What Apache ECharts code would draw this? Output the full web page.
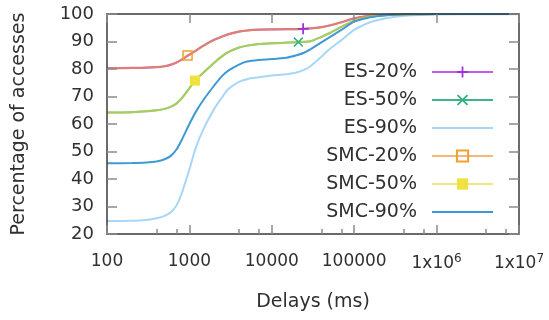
<!DOCTYPE html>
<html>
<head>
<meta charset="utf-8">
<script src="https://cdn.jsdelivr.net/npm/echarts@6/dist/echarts.min.js"></script>
<style>
html,body{margin:0;padding:0;background:#fff;}
#wrap{position:relative;width:549px;height:320px;}
#c,#frame{position:absolute;left:0;top:0;width:549px;height:320px;}
#frame{pointer-events:none;}
</style>
</head>
<body>
<div id="wrap"><div id="c"></div><div id="frame"></div></div>
<script>
// Delays (ms) at which curves were read
const delays = [100, 200, 300, 400, 500, 600, 700, 800, 1000, 1200, 1500, 2000, 2500, 3000, 4000, 5000, 7000, 10000, 15000, 20000, 25000, 30000, 40000, 50000, 70000, 100000, 150000, 200000, 300000, 500000, 1000000, 2000000, 5000000, 10000000];

const es20  = [80.3, 80.4, 80.5, 80.7, 81.0, 81.6, 82.4, 83.3, 85.2, 86.7, 88.6, 90.6, 91.8, 92.7, 93.6, 94.0, 94.3, 94.4, 94.5, 94.5, 94.6, 94.8, 95.2, 95.8, 97.0, 98.4, 99.3, 99.6, 99.8, 99.9, 100, 100, 100, 100];
const es50  = [64.2, 64.3, 64.6, 65.0, 65.5, 66.3, 67.5, 69.2, 73.0, 76.2, 78.8, 82.3, 84.7, 86.2, 87.8, 88.5, 89.1, 89.4, 89.6, 89.7, 89.9, 90.2, 91.7, 93.0, 95.3, 97.6, 98.9, 99.4, 99.7, 99.9, 100, 100, 100, 100];
const es90  = [24.7, 24.8, 25.1, 25.7, 26.6, 28.0, 30.5, 34.5, 43.5, 51.5, 58.5, 65.5, 69.8, 72.8, 75.3, 76.3, 77.0, 77.6, 78.1, 78.7, 79.8, 81.2, 84.5, 87.2, 90.5, 94.2, 96.8, 97.9, 98.9, 99.5, 99.8, 99.9, 99.9, 99.9];
const smc20 = [80.3, 80.4, 80.5, 80.7, 81.0, 81.6, 82.4, 83.3, 85.2, 86.7, 88.6, 90.6, 91.8, 92.7, 93.6, 94.0, 94.3, 94.4, 94.5, 94.5, 94.6, 94.8, 95.2, 95.8, 97.0, 98.4, 99.3, 99.6, 99.8, 99.9, 100, 100, 100, 100];
const smc50 = [64.2, 64.3, 64.6, 65.0, 65.5, 66.3, 67.5, 69.2, 73.0, 76.2, 78.8, 82.3, 84.7, 86.2, 87.8, 88.5, 89.1, 89.4, 89.6, 89.7, 89.9, 90.2, 91.7, 93.0, 95.3, 97.6, 98.9, 99.4, 99.7, 99.9, 100, 100, 100, 100];
const smc90 = [45.7, 45.8, 46.0, 46.4, 47.2, 48.5, 50.8, 54.0, 60.0, 64.5, 69.0, 74.0, 77.5, 79.5, 81.6, 82.7, 83.3, 83.6, 84.1, 85.0, 86.0, 87.3, 89.7, 91.5, 94.2, 97.2, 98.7, 99.3, 99.7, 99.9, 100, 100, 100, 100];

// single marker point per series [delay, value]
const es20Marker  = [24000, 94.6];
const es50Marker  = [21000, 89.8];
const smc20Marker = [950, 84.9];
const smc50Marker = [1170, 75.8];

const seriesNames = ['ES-20%', 'ES-50%', 'ES-90%', 'SMC-20%', 'SMC-50%', 'SMC-90%'];

const FONT = 'DejaVu Sans';

function build(vals, marker) {
  const pts = delays.map((d, i) => ({ value: [d, vals[i]], symbol: 'none' }));
  if (marker) {
    pts.push({ value: [marker[0], marker[1]] });
    pts.sort((a, b) => a.value[0] - b.value[0]);
  }
  return pts;
}

const plusPath = 'path://M4.2,0h1.6v10h-1.6z M0,4.2h10v1.6h-10z';
const crossPath = 'path://M0,1.1L1.1,0L10,8.9L8.9,10Z M8.9,0L10,1.1L1.1,10L0,8.9Z';

function xLabel(v) {
  const e = Math.round(Math.log10(v));
  if (e <= 5) return String(Math.round(Math.pow(10, e)));
  return '1x10{sup|' + e + '}';
}

function tickStyle() { return { color: '#8a8a8a', width: 1.5 }; }
function axisLineStyle() { return { color: '#3a3a3a', width: 1.5 }; }
const GRID = { left: 107, right: 30, top: 14, bottom: 86 };

// ---- data chart (curves, legend, labels, names) ----
const chart = echarts.init(document.getElementById('c'), null, { renderer: 'canvas' });
chart.setOption({
  animation: false,
  grid: GRID,
  legend: {
    orient: 'vertical', right: 55, top: 62, padding: 0, align: 'right',
    itemWidth: 61, itemHeight: 14, itemGap: 8, data: seriesNames,
    textStyle: { fontFamily: FONT, fontSize: 19, color: '#303030', lineHeight: 20, padding: [0, 10, 0, 0] },
    selectedMode: false
  },
  xAxis: [{
    type: 'log', logBase: 10, min: 100, max: 10000000, interval: 1, position: 'bottom',
    name: 'Delays (ms)', nameLocation: 'middle', nameGap: 59,
    nameTextStyle: { fontFamily: FONT, fontSize: 19, color: '#303030' },
    axisLine: { show: false }, axisTick: { show: false }, splitLine: { show: false },
    axisLabel: {
      margin: 19, fontFamily: FONT, fontSize: 17, color: '#303030', formatter: xLabel,
      rich: { sup: { fontFamily: FONT, fontSize: 12, color: '#303030', verticalAlign: 'top', padding: [0, 0, 10, 0] } }
    }
  }],
  yAxis: [{
    type: 'value', min: 20, max: 100, interval: 10, position: 'left',
    name: 'Percentage of accesses', nameLocation: 'middle', nameGap: 78,
    nameTextStyle: { fontFamily: FONT, fontSize: 19, color: '#303030' },
    axisLine: { show: false }, axisTick: { show: false }, splitLine: { show: false },
    axisLabel: { margin: 13, fontFamily: FONT, fontSize: 18, color: '#303030' }
  }],
  series: [
    {
      name: 'ES-20%', type: 'line', smooth: 0.3,
      symbol: plusPath, symbolSize: 11,
      itemStyle: { color: '#a030d8' },
      lineStyle: { color: '#c060e0', width: 2.2 },
      data: build(es20, es20Marker)
    },
    {
      name: 'ES-50%', type: 'line', smooth: 0.3,
      symbol: crossPath, symbolSize: 10,
      itemStyle: { color: '#2fb080' },
      lineStyle: { color: '#3cb488', width: 2 },
      data: build(es50, es50Marker)
    },
    {
      name: 'ES-90%', type: 'line', smooth: 0.3,
      symbol: 'rect', symbolSize: 1,
      itemStyle: { color: 'rgba(0,0,0,0)' },
      lineStyle: { color: '#a8d6f6', width: 2 },
      data: build(es90, null)
    },
    {
      name: 'SMC-20%', type: 'line', smooth: 0.3,
      symbol: 'rect', symbolSize: 9,
      itemStyle: { color: 'rgba(255,255,255,0)', borderColor: '#f0a030', borderWidth: 1.5 },
      lineStyle: { color: '#f09030', width: 2, opacity: 0.65 },
      data: build(smc20, smc20Marker)
    },
    {
      name: 'SMC-50%', type: 'line', smooth: 0.3,
      symbol: 'rect', symbolSize: 10,
      itemStyle: { color: '#f0e040' },
      lineStyle: { color: '#e8d840', width: 2, opacity: 0.65 },
      data: build(smc50, smc50Marker)
    },
    {
      name: 'SMC-90%', type: 'line', smooth: 0.3,
      symbol: 'rect', symbolSize: 1,
      itemStyle: { color: 'rgba(0,0,0,0)' },
      lineStyle: { color: '#3e9ad4', width: 2 },
      data: build(smc90, null)
    }
  ]
});

// ---- frame chart: the four axes with inward ticks, drawn on top ----
const frame = echarts.init(document.getElementById('frame'), null, { renderer: 'canvas' });
frame.setOption({
  animation: false,
  grid: GRID,
  xAxis: [{
    type: 'log', logBase: 10, min: 100, max: 10000000, interval: 1, position: 'bottom',
    axisLine: { show: true, onZero: false, lineStyle: axisLineStyle() },
    axisTick: { show: true, inside: true, length: 9, lineStyle: tickStyle() },
    minorTick: { show: true, splitNumber: 3, length: 5, lineStyle: tickStyle() },
    splitLine: { show: false },
    axisLabel: { show: false }
  }, {
    type: 'log', logBase: 10, min: 100, max: 10000000, interval: 1, position: 'top',
    axisLine: { show: true, onZero: false, lineStyle: axisLineStyle() },
    axisTick: { show: true, inside: true, length: 9, lineStyle: tickStyle() },
    splitLine: { show: false },
    axisLabel: { show: false }
  }],
  yAxis: [{
    type: 'value', min: 20, max: 100, interval: 10, position: 'left',
    axisLine: { show: true, onZero: false, lineStyle: axisLineStyle() },
    axisTick: { show: true, inside: true, length: 10, lineStyle: tickStyle() },
    splitLine: { show: false },
    axisLabel: { show: false }
  }, {
    type: 'value', min: 20, max: 100, interval: 10, position: 'right',
    axisLine: { show: true, onZero: false, lineStyle: axisLineStyle() },
    axisTick: { show: true, inside: true, length: 10, lineStyle: tickStyle() },
    splitLine: { show: false },
    axisLabel: { show: false }
  }],
  series: [{ type: 'line', data: [], silent: true }]
});
</script>
</body>
</html>
